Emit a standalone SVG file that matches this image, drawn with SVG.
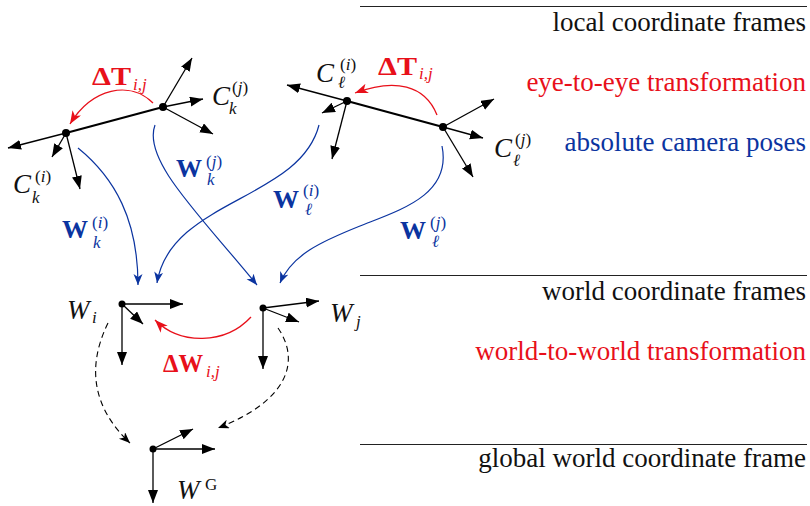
<svg xmlns="http://www.w3.org/2000/svg" width="810" height="506" viewBox="0 0 810 506" font-family="'Liberation Serif', 'DejaVu Serif', serif">
<defs>
<style>
.ax{stroke:#000;stroke-width:1.3;fill:none;marker-end:url(#ab)}
.base{stroke:#000;stroke-width:2.2;fill:none}
.dot{fill:#000}
.blue{stroke:#0b34a0;stroke-width:1.2;fill:none;marker-end:url(#abl)}
.red{stroke:#e8101a;stroke-width:1.3;fill:none;marker-end:url(#ar)}
.dash{stroke:#000;stroke-width:1.1;fill:none;stroke-dasharray:6 4;marker-end:url(#ad)}
.rule{stroke:#222;stroke-width:1.2}
text{font-family:'Liberation Serif','DejaVu Serif',serif}
.t{font-size:27px;fill:#111;text-anchor:end}
.m{fill:#111}
.cal{font-style:italic;font-size:27px}
.bw{font-weight:bold;font-size:26px}
.dl{font-weight:bold;font-size:25px}
.s{font-size:17px}
.i{font-style:italic}
.rd{fill:#e8101a}
.bl{fill:#0b34a0}
</style>
<marker id="ab" markerUnits="userSpaceOnUse" markerWidth="14" markerHeight="11" refX="13" refY="5" orient="auto"><path d="M0,0 L13,5 L0,10 z" fill="#000"/></marker>
<marker id="abl" markerUnits="userSpaceOnUse" markerWidth="12" markerHeight="10" refX="11" refY="4.5" orient="auto"><path d="M0,0 L11,4.5 L0,9 L3,4.5 z" fill="#0b34a0"/></marker>
<marker id="ar" markerUnits="userSpaceOnUse" markerWidth="14" markerHeight="11" refX="13" refY="5" orient="auto"><path d="M0,0 L13,5 L0,10 L3.5,5 z" fill="#e8101a"/></marker>
<marker id="ad" markerUnits="userSpaceOnUse" markerWidth="12" markerHeight="10" refX="11" refY="4.5" orient="auto"><path d="M0,0 L11,4.5 L0,9 L3,4.5 z" fill="#000"/></marker>
</defs>
<rect width="810" height="506" fill="#fff"/>

<g id="legend">
<line class="rule" x1="360" y1="6.5" x2="807" y2="6.5"/>
<line class="rule" x1="360" y1="275.5" x2="807" y2="275.5"/>
<line class="rule" x1="360" y1="444.5" x2="807" y2="444.5"/>
<text class="t" x="806" y="31">local coordinate frames</text>
<text class="t rd" x="806" y="91">eye-to-eye transformation</text>
<text class="t bl" x="806" y="151">absolute camera poses</text>
<text class="t" x="806" y="300">world coordinate frames</text>
<text class="t rd" x="806" y="360">world-to-world transformation</text>
<text class="t" x="806" y="467">global world coordinate frame</text>
</g>

<g id="camera-k-i">
<line class="ax" x1="66" y1="133" x2="8" y2="148"/>
<line class="ax" x1="66" y1="133" x2="52" y2="157"/>
<line class="ax" x1="66" y1="133" x2="80" y2="189"/>
<circle class="dot" cx="66" cy="133" r="4"/>
<text class="m cal" x="13" y="193">C</text>
<text class="m s" x="35" y="182">(<tspan class="i">i</tspan>)</text>
<text class="m s i" x="32" y="203">k</text>
</g>

<g id="camera-k-j">
<line class="ax" x1="163" y1="107" x2="192" y2="58"/>
<line class="ax" x1="163" y1="107" x2="203" y2="99"/>
<line class="ax" x1="163" y1="107" x2="213" y2="134"/>
<circle class="dot" cx="163" cy="107" r="4"/>
<text class="m cal" x="212" y="105">C</text>
<text class="m s" x="232" y="93">(<tspan class="i">j</tspan>)</text>
<text class="m s i" x="229" y="114">k</text>
</g>

<g id="camera-l-i">
<line class="ax" x1="347" y1="101" x2="287" y2="85"/>
<line class="ax" x1="347" y1="101" x2="322" y2="113"/>
<line class="ax" x1="347" y1="101" x2="332" y2="159"/>
<circle class="dot" cx="347" cy="101" r="4"/>
<text class="m cal" x="316" y="82">C</text>
<text class="m s" x="340" y="70">(<tspan class="i">i</tspan>)</text>
<text class="m s i" x="338" y="88">ℓ</text>
</g>

<g id="camera-l-j">
<line class="ax" x1="443" y1="127" x2="494" y2="99"/>
<line class="ax" x1="443" y1="127" x2="483" y2="138"/>
<line class="ax" x1="443" y1="127" x2="473" y2="177"/>
<circle class="dot" cx="443" cy="127" r="4"/>
<text class="m cal" x="494" y="157">C</text>
<text class="m s" x="515" y="145">(<tspan class="i">j</tspan>)</text>
<text class="m s i" x="513" y="166">ℓ</text>
</g>

<g id="world-i">
<line class="ax" x1="122" y1="304" x2="183" y2="304"/>
<line class="ax" x1="122" y1="304" x2="143" y2="324"/>
<line class="ax" x1="122" y1="304" x2="122" y2="365"/>
<circle class="dot" cx="122" cy="304" r="3.5"/>
<text class="m cal" x="67" y="319">W</text>
<text class="m s i" x="92" y="323">i</text>
</g>

<g id="world-j">
<line class="ax" x1="263" y1="308" x2="319" y2="301"/>
<line class="ax" x1="263" y1="308" x2="299" y2="322"/>
<line class="ax" x1="263" y1="308" x2="263" y2="369"/>
<circle class="dot" cx="263" cy="308" r="3.5"/>
<text class="m cal" x="330" y="322">W</text>
<text class="m s i" x="356" y="327">j</text>
</g>

<g id="world-global">
<line class="ax" x1="153" y1="449" x2="215" y2="449"/>
<line class="ax" x1="153" y1="449" x2="193" y2="429"/>
<line class="ax" x1="153" y1="449" x2="153" y2="503"/>
<circle class="dot" cx="153" cy="449" r="3.5"/>
<text class="m cal" x="177" y="499">W</text>
<text class="m s" x="205" y="490">G</text>
</g>

<g id="connectors">
<line class="base" x1="66" y1="133" x2="163" y2="107"/>
<line class="base" x1="347" y1="101" x2="443" y2="127"/>
<path class="red" d="M153,103 C130,80 92,88 70,124"/>
<path class="red" d="M437,115 C425,85 395,78 355,93"/>
<path class="red" d="M251,317 C225,345 180,345 155,320"/>
<path class="blue" d="M78,148 C115,178 138,220 138,285"/>
<path class="blue" d="M155,125 C142,160 200,215 257,285"/>
<path class="blue" d="M319,125 C300,200 170,200 157,283"/>
<path class="blue" d="M442,146 C452,195 400,210 360,226 C320,242 292,255 280,283"/>
<path class="dash" d="M108,323 C85,370 95,410 130,443"/>
<path class="dash" d="M278,328 C300,360 290,400 218,428"/>
</g>

<g id="labels">
<text class="m dl rd" x="92" y="85" textLength="39" lengthAdjust="spacingAndGlyphs">ΔT</text>
<text class="m s i rd" x="133" y="90">i,j</text>
<text class="m dl rd" x="378" y="75" textLength="39" lengthAdjust="spacingAndGlyphs">ΔT</text>
<text class="m s i rd" x="419" y="79">i,j</text>
<text class="m dl rd" x="163" y="372" textLength="40" lengthAdjust="spacingAndGlyphs">ΔW</text>
<text class="m s i rd" x="206" y="377">i,j</text>
<text class="m bw bl" x="176" y="177">W</text>
<text class="m s bl" x="206" y="167">(<tspan class="i">j</tspan>)</text>
<text class="m s i bl" x="207" y="185">k</text>
<text class="m bw bl" x="273" y="208">W</text>
<text class="m s bl" x="303" y="196">(<tspan class="i">i</tspan>)</text>
<text class="m s i bl" x="305" y="215">ℓ</text>
<text class="m bw bl" x="62" y="238">W</text>
<text class="m s bl" x="92" y="228">(<tspan class="i">i</tspan>)</text>
<text class="m s i bl" x="93" y="248">k</text>
<text class="m bw bl" x="400" y="239">W</text>
<text class="m s bl" x="430" y="228">(<tspan class="i">j</tspan>)</text>
<text class="m s i bl" x="432" y="247">ℓ</text>
</g>
</svg>
